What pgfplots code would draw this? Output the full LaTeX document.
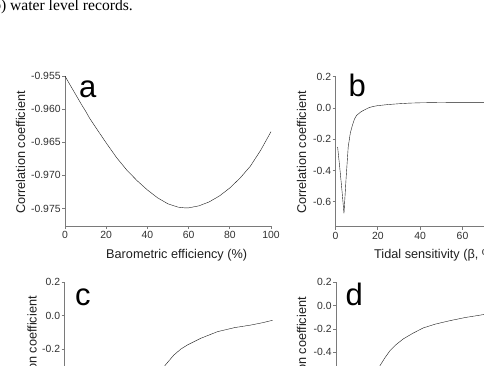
\documentclass[border=0pt]{standalone}
\usepackage{fontspec}
\setmainfont{Liberation Sans}
\newfontfamily\timesfont{Liberation Serif}
\usepackage{pgfplots}
\pgfplotsset{compat=1.18}
\definecolor{axgray}{HTML}{7A7A7A}
\definecolor{curve}{HTML}{1A1A1A}
\definecolor{tlab}{HTML}{303030}
\pgfplotsset{
  panel/.style={
    scale only axis,
    axis lines=left,
    axis line style={-, axgray, line width=1pt},
    tick style={axgray, line width=0.9pt},
    tick align=outside,
    major tick length=3pt,
    ticklabel style={font=\fontsize{10.4}{12}\selectfont, text=tlab},
    xticklabel style={inner ysep=2.3pt},
    yticklabel style={inner xsep=1.2pt},
    /pgf/number format/assume math mode=true,
    scaled ticks=false,
    enlargelimits=false,
    xtick={0,20,40,60,80,100},
    cycle list={{curve, line width=1.4pt, mark=none}},
  }
}
\newcommand{\lab}{\fontsize{12.7}{14}\selectfont\color{black!88}}
\newcommand{\biglet}{\fontsize{31}{34}\selectfont}
\begin{document}
\begin{tikzpicture}
\begin{scope}
\clip (0pt,0pt) rectangle (484pt,365pt);
% caption fragment
\node[anchor=base west, inner sep=0pt, font=\timesfont\fontsize{15.6}{18}\selectfont] at (-6.9pt,354pt) {b) water level records.};

% panel a
\begin{axis}[panel, at={(65pt,139pt)}, anchor=south west, width=206pt, height=150pt,
  xmin=0, xmax=100, ymin=-0.97764, ymax=-0.955,
  ytick={-0.975,-0.970,-0.965,-0.960,-0.955},
  yticklabel style={/pgf/number format/fixed, /pgf/number format/fixed zerofill, /pgf/number format/precision=3}]
\addplot coordinates {
(0,-0.9550) (2,-0.9561) (5,-0.9577) (8,-0.9593) (10,-0.9603) (12,-0.9614) (15,-0.9628) (20,-0.9651) (25,-0.9673) (30,-0.9692)
(35,-0.9708) (40,-0.9722) (45,-0.9734) (50,-0.9743) (55,-0.9748) (58,-0.9749) (60,-0.9749) (65,-0.9746)
(70,-0.9740) (75,-0.9731) (80,-0.9719) (85,-0.9704) (90,-0.9686) (95,-0.9662) (100,-0.9634)};
\end{axis}

% panel b
\begin{axis}[panel, at={(335.5pt,138.3pt)}, anchor=south west, width=211.7pt, height=150pt,
  xmin=0, xmax=100, ymin=-0.76, ymax=0.2,
  ytick={-0.6,-0.4,-0.2,0,0.2},
  yticklabel style={/pgf/number format/fixed, /pgf/number format/fixed zerofill, /pgf/number format/precision=1}]
\addplot coordinates {
(1,-0.25) (2,-0.38) (3,-0.52) (4,-0.675) (5,-0.45) (6,-0.25) (7,-0.16) (8,-0.11) (9,-0.07) (10,-0.047)
(12,-0.025) (14,-0.010) (16,0.003) (18,0.010) (20,0.015) (25,0.022) (30,0.027) (35,0.031) (40,0.033)
(50,0.035) (60,0.036) (70,0.036) (80,0.036) (100,0.036)};
\end{axis}

% panel c
\begin{axis}[panel, at={(64.5pt,-67.3pt)}, anchor=south west, width=208pt, height=150pt,
  xmin=0, xmax=100, ymin=-0.70, ymax=0.2,
  ytick={-0.6,-0.4,-0.2,0,0.2},
  yticklabel style={/pgf/number format/fixed, /pgf/number format/fixed zerofill, /pgf/number format/precision=1}]
\addplot coordinates {
(38,-0.50) (42,-0.42) (45,-0.36) (48.5,-0.296) (52.6,-0.236) (56,-0.20) (59.1,-0.176) (65.5,-0.136)
(73.6,-0.096) (81.7,-0.072) (89.8,-0.056) (95,-0.043) (100,-0.028)};
\end{axis}

% panel d
\begin{axis}[panel, at={(336pt,-67.3pt)}, anchor=south west, width=211.7pt, height=150pt,
  xmin=0, xmax=100, ymin=-1.086, ymax=0.2,
  ytick={-1.0,-0.8,-0.6,-0.4,-0.2,0,0.2},
  yticklabel style={/pgf/number format/fixed, /pgf/number format/fixed zerofill, /pgf/number format/precision=1}]
\addplot coordinates {
(15,-0.78) (18,-0.62) (20.8,-0.514) (23,-0.45) (25.5,-0.386) (28,-0.34) (31.8,-0.285) (36,-0.24)
(41.2,-0.191) (47,-0.158) (53.8,-0.129) (61,-0.102) (69.6,-0.077) (80,-0.056) (90,-0.040) (100,-0.028)};
\end{axis}

% axis labels
\node[anchor=west, inner sep=0pt, font=\lab] at (106pt,110pt) {Barometric efficiency (\%)};
\node[anchor=west, inner sep=0pt, font=\lab] at (374pt,110pt) {Tidal sensitivity (β, \%)};
\node[rotate=90, inner sep=0pt, font=\lab] at (20.7pt,212.5pt) {Correlation coefficient};
\node[rotate=90, inner sep=0pt, font=\lab] at (301.7pt,212.5pt) {Correlation coefficient};
\node[rotate=90, inner sep=0pt, font=\lab] at (32pt,7.5pt) {Correlation coefficient};
\node[rotate=90, inner sep=0pt, font=\lab] at (301.7pt,6.5pt) {Correlation coefficient};

% panel letters
\node[anchor=base west, inner sep=0pt, font=\biglet] at (78.8pt,268pt) {a};
\node[anchor=base west, inner sep=0pt, font=\biglet] at (348.5pt,268.3pt) {b};
\node[anchor=base west, inner sep=0pt, font=\biglet] at (75pt,59.5pt) {c};
\node[anchor=base west, inner sep=0pt, font=\biglet] at (345.5pt,60pt) {d};
\end{scope}
\pgfresetboundingbox
\useasboundingbox (0pt,0pt) rectangle (484pt,365pt);
\end{tikzpicture}
\end{document}
